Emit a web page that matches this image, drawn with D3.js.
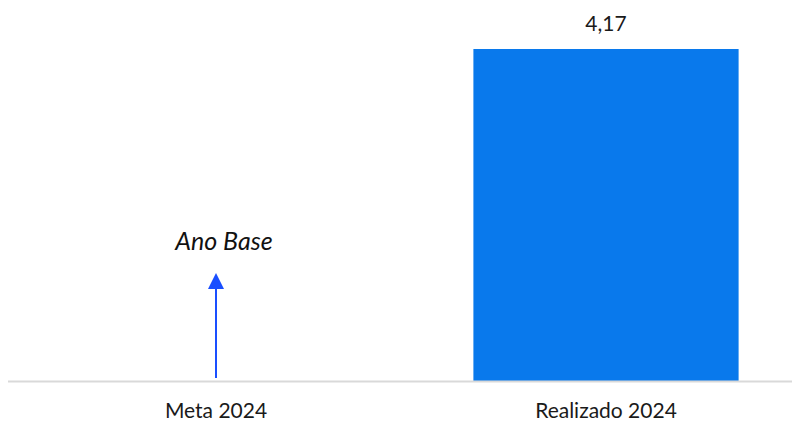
<!DOCTYPE html>
<html>
<head>
<meta charset="utf-8">
<script src="https://cdn.jsdelivr.net/npm/d3@7"></script>
<style>
  body { margin: 0; background: #fff; }
  svg { display: block; font-family: Lato, "Open Sans", sans-serif; }
</style>
</head>
<body>
<div id="chart"></div>
<script>
const categories = ['Meta 2024', 'Realizado 2024'];
const values = [null, 4.17];
const annotationText = 'Ano Base';

const W = 792, H = 422;
const BASE_Y = 381;
const BAR_COLOR = '#0979EC';
const ARROW_COLOR = '#1A4FFF';

const svg = d3.select('#chart').append('svg')
  .attr('width', W)
  .attr('height', H);

const x = d3.scaleBand()
  .domain(categories)
  .range([21, 801])
  .paddingInner(0.32)
  .paddingOuter(0.16);

const y = d3.scaleLinear()
  .domain([0, 4.17])
  .range([BASE_Y, 49]);

const fmt = v => d3.format('.2f')(v).replace('.', ',');
const rows = categories.map((c, i) => ({ c, v: values[i] })).filter(d => d.v != null);

// bars
svg.selectAll('.bar')
  .data(rows)
  .enter().append('rect')
  .attr('class', 'bar')
  .attr('x', d => x(d.c))
  .attr('y', d => y(d.v))
  .attr('width', x.bandwidth())
  .attr('height', d => y(0) - y(d.v))
  .attr('fill', BAR_COLOR);

// value labels
svg.selectAll('.val')
  .data(rows)
  .enter().append('text')
  .attr('x', d => x(d.c) + x.bandwidth() / 2)
  .attr('y', d => y(d.v) - 18)
  .attr('text-anchor', 'middle')
  .attr('font-size', 21)
  .attr('fill', '#1a1a1a')
  .text(d => fmt(d.v));

// axis baseline + category labels
const xAxis = svg.append('g')
  .attr('transform', `translate(0, ${BASE_Y})`)
  .call(d3.axisBottom(x).tickSize(0).tickPadding(22));
xAxis.select('.domain')
  .attr('d', `M8,0.5H792`)
  .attr('stroke', '#d9d9d9')
  .attr('stroke-width', 2);
xAxis.selectAll('text')
  .attr('font-family', 'Lato, "Open Sans", sans-serif')
  .attr('font-size', 21)
  .attr('fill', '#1a1a1a');

// "Ano Base" arrow on the first category
const ax = x(categories[0]) + x.bandwidth() / 2;
const tipY = 273, headH = 16, headW = 16;
svg.append('line')
  .attr('x1', ax).attr('x2', ax)
  .attr('y1', BASE_Y - 3).attr('y2', tipY + headH)
  .attr('stroke', ARROW_COLOR)
  .attr('stroke-width', 2);
svg.append('path')
  .attr('d', `M${ax},${tipY}L${ax + headW / 2},${tipY + headH}L${ax - headW / 2},${tipY + headH}Z`)
  .attr('fill', ARROW_COLOR);

svg.append('text')
  .attr('x', ax + 8)
  .attr('y', 250)
  .attr('text-anchor', 'middle')
  .attr('font-size', 25)
  .attr('font-style', 'italic')
  .attr('fill', '#111')
  .text(annotationText);
</script>
</body>
</html>
